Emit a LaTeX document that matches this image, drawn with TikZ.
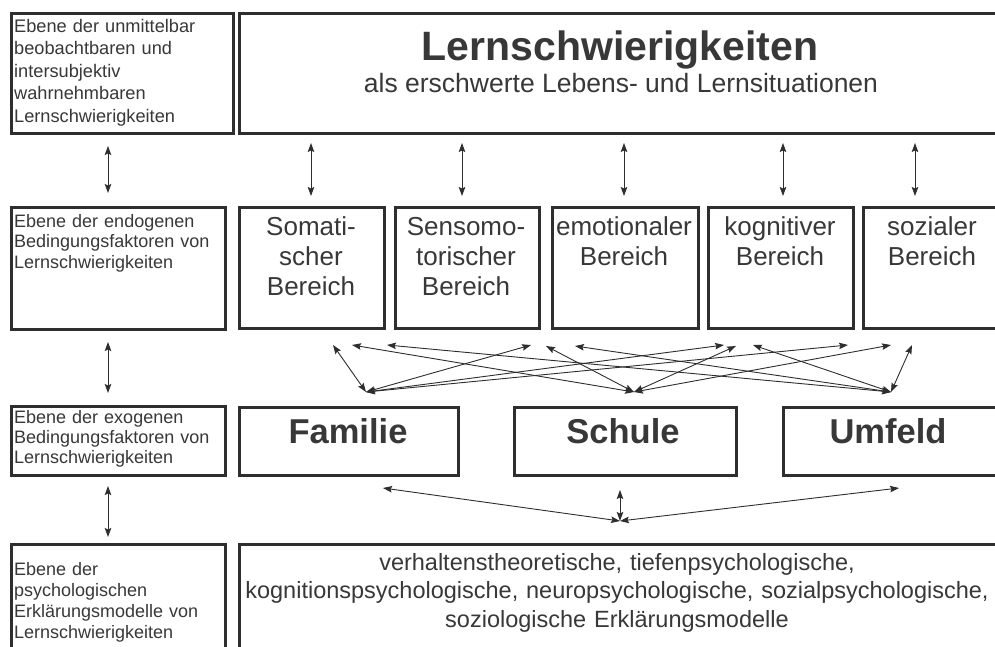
\documentclass[tikz,border=0pt]{standalone}
\usepackage{fontspec}
\setmainfont{Liberation Sans}
\usetikzlibrary{arrows.meta}
\definecolor{ink}{HTML}{2E2E2E}
\definecolor{txt}{HTML}{383838}
\tikzset{
  frame/.style={draw=ink, line width=2.6pt, inner sep=0pt, anchor=north west},
  link/.style={draw=ink, line width=0.9pt,
    {Stealth[length=9pt,width=6.5pt,inset=1.5pt]}-{Stealth[length=9pt,width=6.5pt,inset=1.5pt]}},
  leveltext/.style={anchor=base west, align=left, inner sep=0pt, text=txt, text width=210pt},
  areatext/.style={anchor=base, align=center, inner sep=0pt, text=txt, text width=150pt,
    font=\fontsize{26}{30}\selectfont},
  factortext/.style={anchor=base, inner sep=0pt, text=txt, font=\bfseries\fontsize{34.5}{40}\selectfont},
}
\begin{document}
\begin{tikzpicture}[x=1pt, y=-1pt]
  \clip (0,0) rectangle (995,646);
  \fill[white] (0,0) rectangle (995,646);

  % --- level boxes on the left
  \node[frame, minimum width=222pt, minimum height=120pt] (lv1) at (10,12) {};
  \node[frame, minimum width=214pt, minimum height=122pt] (lv2) at (10,206) {};
  \node[frame, minimum width=214pt, minimum height=69pt]  (lv3) at (10,405) {};
  \node[frame, minimum width=214pt, minimum height=130pt] (lv4) at (10,543) {};

  \node[leveltext, font=\fontsize{18.2}{22.5}\selectfont] (lv1t) at (14,32)
    {Ebene der unmittelbar\\beobachtbaren und\\intersubjektiv\\wahrnehmbaren\\Lernschwierigkeiten};
  \node[leveltext, font=\fontsize{18}{20.5}\selectfont] (lv2t) at (14,227)
    {Ebene der endogenen\\Bedingungsfaktoren von\\Lernschwierigkeiten};
  \node[leveltext, font=\fontsize{18}{20}\selectfont] (lv3t) at (14,423)
    {Ebene der exogenen\\Bedingungsfaktoren von\\Lernschwierigkeiten};
  \node[leveltext, font=\fontsize{18}{21}\selectfont] (lv4t) at (14,575)
    {Ebene der\\psychologischen\\Erklärungsmodelle von\\Lernschwierigkeiten};

  % --- level arrows on the left
  \coordinate (a1) at (108,146); \coordinate (a2) at (108,193);
  \coordinate (a3) at (108,342); \coordinate (a4) at (108,393);
  \coordinate (a5) at (108,486); \coordinate (a6) at (108,537);
  \draw[link] (a1) -- (a2);
  \draw[link] (a3) -- (a4);
  \draw[link] (a5) -- (a6);

  % --- top: learning difficulties
  \node[frame, minimum width=780pt, minimum height=120pt] (top) at (238,12) {};
  \node[anchor=base, inner sep=0pt, text=txt, font=\bfseries\fontsize{41}{48}\selectfont]
    (title) at (620,60) {Lernschwierigkeiten};
  \node[anchor=base, inner sep=0pt, text=txt, font=\fontsize{26.5}{30}\selectfont]
    (subtitle) at (621,92) {als erschwerte Lebens- und Lernsituationen};

  % --- endogenous areas
  \node[frame, minimum width=145pt, minimum height=121pt] (s1) at (238,206) {};
  \node[frame, minimum width=144pt, minimum height=121pt] (s2) at (394,206) {};
  \node[frame, minimum width=146pt, minimum height=121pt] (s3) at (551,206) {};
  \node[frame, minimum width=145pt, minimum height=121pt] (s4) at (707,206) {};
  \node[frame, minimum width=160pt, minimum height=121pt] (s5) at (862,206) {};

  \node[areatext] (s1t) at (311,235) {Somati-\\scher\\Bereich};
  \node[areatext] (s2t) at (466,235) {Sensomo-\\torischer\\Bereich};
  \node[areatext] (s3t) at (624,235) {emotionaler\\Bereich};
  \node[areatext] (s4t) at (780,235) {kognitiver\\Bereich};
  \node[areatext] (s5t) at (932,235) {sozialer\\Bereich};

  % arrows between top box and the areas
  \foreach \x [count=\i] in {311,462,624,783,915} {
    \coordinate (u\i) at (\x,143);
    \coordinate (d\i) at (\x,196);
    \draw[link] (u\i) -- (d\i);
  }

  % --- exogenous factors
  \node[frame, minimum width=219pt, minimum height=68pt] (f1) at (238,406) {};
  \node[frame, minimum width=222pt, minimum height=68pt] (f2) at (513,406) {};
  \node[frame, minimum width=230pt, minimum height=68pt] (f3) at (782,406) {};
  \node[factortext] (f1t) at (348,443) {Familie};
  \node[factortext] (f2t) at (623,443) {Schule};
  \node[factortext] (f3t) at (888,443) {Umfeld};

  % crossing links between areas and factors
  \coordinate (cL) at (366,392);
  \coordinate (cM) at (634,392);
  \coordinate (cR) at (891,392);
  \coordinate (p1) at (333,345);  \coordinate (p2) at (352,345);  \coordinate (p3) at (387,345);
  \coordinate (p4) at (531,345);  \coordinate (p5) at (546,346);  \coordinate (p6) at (575,346);
  \coordinate (p7) at (724,345);  \coordinate (p8) at (736,346);  \coordinate (p9) at (753,345);
  \coordinate (p10) at (848,345); \coordinate (p11) at (891,345); \coordinate (p12) at (912,345);
  \draw[link] (p1) -- (cL);  \draw[link] (p2) -- (cM);  \draw[link] (p3) -- (cR);
  \draw[link] (p4) -- (cL);  \draw[link] (p5) -- (cM);  \draw[link] (p6) -- (cR);
  \draw[link] (p7) -- (cL);  \draw[link] (p8) -- (cM);  \draw[link] (p9) -- (cR);
  \draw[link] (p10) -- (cL); \draw[link] (p11) -- (cM); \draw[link] (p12) -- (cR);

  % links from factors down to the explanation models
  \coordinate (b0) at (620,521);
  \coordinate (bL) at (383,488);
  \coordinate (bM) at (620,490);
  \coordinate (bR) at (899,488);
  \draw[link] (bL) -- (b0);
  \draw[link] (bM) -- (b0);
  \draw[link] (bR) -- (b0);

  % --- explanation models
  \node[frame, minimum width=780pt, minimum height=130pt] (models) at (238,543) {};
  \node[anchor=base, align=center, inner sep=0pt, text=txt, text width=780pt,
        font=\fontsize{23.5}{28.5}\selectfont] (modelst) at (617,570)
    {verhaltenstheoretische, tiefenpsychologische,\\
     kognitionspsychologische, neuropsychologische, sozialpsychologische,\\
     soziologische Erklärungsmodelle};
\end{tikzpicture}
\end{document}
